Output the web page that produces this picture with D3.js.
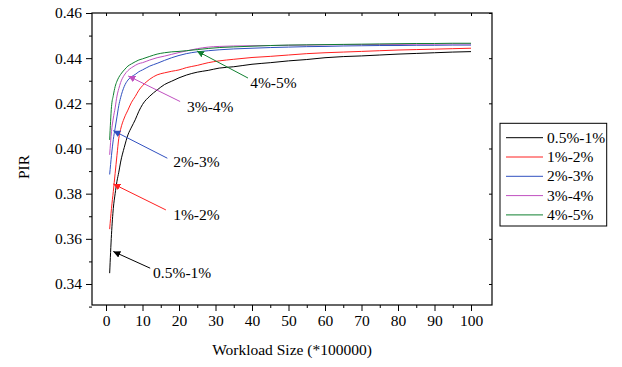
<!DOCTYPE html>
<html><head><meta charset="utf-8">
<script src="https://cdn.jsdelivr.net/npm/d3@7"></script>
<style>body{margin:0;background:#fff}text{font-family:"Liberation Serif","Times New Roman",serif}</style>
</head><body><svg id="c" width="622" height="367"></svg>
<script>
const seriesNames = ["0.5%-1%","1%-2%","2%-3%","3%-4%","4%-5%"];
const seriesColors = ["#000000","#ff2020","#3050c0","#c050c0","#108030"];
const xs = [1,1.5,2,2.5,3,3.5,4,5,6,7,8,9,10,12,14,16,18,20,22,25,28,31,35,40,45,50,55,60,65,70,75,80,85,90,95,100];
const s05_1 = [0.3448,0.362,0.3735,0.380,0.3855,0.3895,0.394,0.4005,0.406,0.4095,0.4127,0.4165,0.4195,0.4232,0.4259,0.4283,0.4298,0.4313,0.4325,0.4338,0.4346,0.4356,0.4362,0.4373,0.438,0.4388,0.4394,0.4402,0.4407,0.441,0.4414,0.4418,0.4421,0.4424,0.4427,0.4429];
const s1_2 = [0.3643,0.3735,0.381,0.389,0.397,0.4045,0.4085,0.4135,0.417,0.4205,0.423,0.4258,0.4278,0.4307,0.4326,0.4335,0.4342,0.4348,0.4358,0.4368,0.438,0.4388,0.4395,0.4403,0.4408,0.4414,0.442,0.4424,0.4427,0.443,0.4433,0.4436,0.4438,0.444,0.4442,0.4444];
const s2_3 = [0.3885,0.397,0.404,0.409,0.414,0.419,0.4225,0.4275,0.4303,0.4318,0.4328,0.434,0.4348,0.4365,0.4377,0.439,0.4402,0.4412,0.442,0.4428,0.4433,0.4437,0.4441,0.4444,0.4447,0.4449,0.4451,0.4452,0.4454,0.4455,0.4456,0.4456,0.4457,0.4457,0.4458,0.4458];
const s3_4 = [0.3972,0.4075,0.4135,0.418,0.4232,0.4265,0.4292,0.4325,0.4345,0.4358,0.4368,0.4376,0.438,0.4392,0.4402,0.4409,0.4417,0.4425,0.4432,0.4442,0.4449,0.4452,0.4454,0.4455,0.4456,0.4457,0.4458,0.4459,0.446,0.446,0.4461,0.4461,0.4462,0.4462,0.4463,0.4463];
const s4_5 = [0.4038,0.4185,0.4235,0.4274,0.4298,0.4315,0.4328,0.4348,0.4365,0.4375,0.4384,0.4392,0.4397,0.4408,0.4418,0.4424,0.4428,0.443,0.4433,0.4438,0.4443,0.4447,0.445,0.4453,0.4456,0.4458,0.4459,0.446,0.4461,0.4462,0.4463,0.4464,0.4465,0.4465,0.4466,0.4466];
const xTicks = [0,10,20,30,40,50,60,70,80,90,100];
const yTicks = [0.34,0.36,0.38,0.40,0.42,0.44,0.46];
// annotations: [label, tipX, tipY, startX, startY, textX, textY] in data units
const annLabels = ["4%-5%","3%-4%","2%-3%","1%-2%","0.5%-1%"];
const annColor = ["#108030","#c050c0","#3050c0","#ff2020","#000000"];
const annTip = [[24.9,0.4432],[6.1,0.4321],[2.0,0.4079],[2.0,0.3843],[2.0,0.3544]];
const annStart = [[38.9,0.4312],[20.3,0.4208],[16.8,0.3957],[16.4,0.3728],[12.1,0.347]];
const annText = [[39.5,0.4268],[22.2,0.4162],[18.4,0.3919],[18.4,0.3684],[12.9,0.3428]];

const allSeries = [s05_1,s1_2,s2_3,s3_4,s4_5];
const svg = d3.select("#c");
const L=92,R=492,T=13,B=305;
const x = d3.scaleLinear().domain([-3.84,105.75]).range([L,R]);
const y = d3.scaleLinear().domain([0.3307,0.46]).range([B,T]);
const FS = "15.5px";

// minor ticks
const xMinor = d3.range(5,105,10);
const yMinor = d3.range(0.33,0.461,0.01).filter(v=>!yTicks.some(t=>Math.abs(t-v)<1e-6));

const gx = svg.append("g").attr("transform",`translate(0,${B})`)
  .call(d3.axisBottom(x).tickValues(xTicks).tickSize(6).tickPadding(4).tickFormat(d3.format("d")));
const gy = svg.append("g").attr("transform",`translate(${L},0)`)
  .call(d3.axisLeft(y).tickValues(yTicks).tickSize(6).tickPadding(4).tickFormat(d3.format(".2f")));
[gx,gy].forEach(g=>{g.select(".domain").remove();g.selectAll("text").style("font-size",FS).attr("fill","#000");g.selectAll("line").attr("stroke","#000");});
svg.append("g").attr("transform",`translate(0,${B})`).call(d3.axisBottom(x).tickValues(xMinor).tickSize(3).tickFormat("")).select(".domain").remove();
svg.append("g").attr("transform",`translate(${L},0)`).call(d3.axisLeft(y).tickValues(yMinor).tickSize(3).tickFormat("")).select(".domain").remove();
// mirror ticks inward
svg.append("g").attr("transform",`translate(0,${T})`).call(d3.axisBottom(x).tickValues(xTicks).tickSize(3).tickFormat("")).select(".domain").remove();
svg.append("g").attr("transform",`translate(${R},0)`).call(d3.axisLeft(y).tickValues(yTicks).tickSize(3).tickFormat("")).select(".domain").remove();

svg.append("rect").attr("x",L).attr("y",T).attr("width",R-L).attr("height",B-T)
  .attr("fill","none").attr("stroke","#000").attr("stroke-width",1.2);

const line = d3.line().x((d,i)=>x(xs[i])).y(d=>y(d)).curve(d3.curveMonotoneX);
allSeries.forEach((s,k)=>{
  svg.append("path").datum(s).attr("d",line).attr("fill","none")
    .attr("stroke",seriesColors[k]).attr("stroke-width",1);
});

// arrows
const defs = svg.append("defs");
annColor.forEach((c,i)=>{
  defs.append("marker").attr("id","ah"+i).attr("viewBox","0 0 10 10").attr("refX",10).attr("refY",5)
    .attr("markerWidth",7).attr("markerHeight",7).attr("markerUnits","userSpaceOnUse").attr("orient","auto")
    .append("path").attr("d","M0,0L10,5L0,10z").attr("fill",c);
});
annLabels.forEach((lab,i)=>{
  svg.append("line").attr("x1",x(annStart[i][0])).attr("y1",y(annStart[i][1]))
    .attr("x2",x(annTip[i][0])).attr("y2",y(annTip[i][1]))
    .attr("stroke",annColor[i]).attr("stroke-width",1).attr("marker-end",`url(#ah${i})`);
  svg.append("text").attr("x",x(annText[i][0])).attr("y",y(annText[i][1]))
    .style("font-size",FS).attr("fill","#000").text(lab);
});

// axis titles
svg.append("text").attr("x",(L+R)/2).attr("y",355).attr("text-anchor","middle").style("font-size",FS).text("Workload Size (*100000)");
svg.append("text").attr("transform","translate(29,167) rotate(-90)").attr("text-anchor","middle").style("font-size",FS).text("PIR");

// legend
const lg = svg.append("g");
lg.append("rect").attr("x",500).attr("y",123.3).attr("width",106.7).attr("height",102.7).attr("fill","#fff").attr("stroke","#000").attr("stroke-width",1);
seriesNames.forEach((n,i)=>{
  const yy = 137.7 + i*19.3;
  lg.append("line").attr("x1",506).attr("x2",543).attr("y1",yy).attr("y2",yy).attr("stroke",seriesColors[i]).attr("stroke-width",1);
  lg.append("text").attr("x",547).attr("y",yy+5).style("font-size",FS).text(n);
});
</script></body></html>
